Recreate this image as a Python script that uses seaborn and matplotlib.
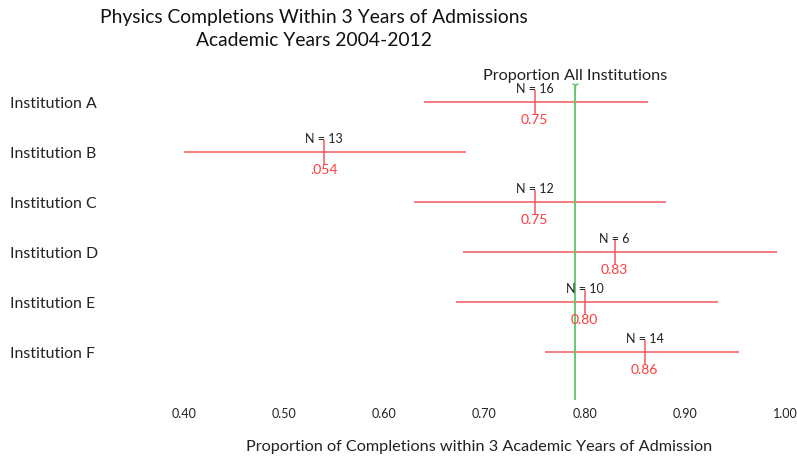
import matplotlib
matplotlib.use("Agg")
import matplotlib.pyplot as plt
import seaborn as sns
import pandas as pd

# Completion rates by institution, with interval bounds and cohort sizes
institutions = ["Institution A", "Institution B", "Institution C",
                "Institution D", "Institution E", "Institution F"]
proportion = [0.75, 0.54, 0.75, 0.83, 0.80, 0.86]
lower = [0.640, 0.400, 0.630, 0.679, 0.672, 0.760]
upper = [0.863, 0.682, 0.881, 0.992, 0.933, 0.954]
n_students = [16, 13, 12, 6, 10, 14]
value_labels = ["0.75", ".054", "0.75", "0.83", "0.80", "0.86"]
overall = 0.79
x_ticks = [0.40, 0.50, 0.60, 0.70, 0.80, 0.90, 1.00]
x_tick_labels = ["0.40", "0.50", "0.60", "0.70", "0.80", "0.90", "1.00"]

df = pd.DataFrame({"institution": institutions, "proportion": proportion,
                   "lower": lower, "upper": upper, "n": n_students,
                   "label": value_labels})
df["pos"] = range(len(df))

sns.set_theme(style="white")
plt.rcParams["font.family"] = ["Lato", "DejaVu Sans"]

W, H = 797, 457
fig = plt.figure(figsize=(W / 100, H / 100), dpi=100)
left_px, right_px, top_px, bottom_px = 184, 785, 60, 400
ax = fig.add_axes([left_px / W, 1 - bottom_px / H,
                   (right_px - left_px) / W, (bottom_px - top_px) / H])

red_line = "#f05a5a"
red_text = "#ff3b3b"

# Interval lines
ax.hlines(df["pos"], df["lower"], df["upper"], color=red_line, linewidth=1.1)
# Point estimate ticks
sns.scatterplot(data=df, x="proportion", y="pos", marker="|", s=320,
                color=red_line, linewidth=1.1, ax=ax, legend=False)

for _, r in df.iterrows():
    ax.annotate(f"N = {r['n']}", (r["proportion"], r["pos"]),
                xytext=(0, 13), textcoords="offset pixels",
                ha="center", va="center", fontsize=9, color="#222222")
    ax.annotate(r["label"], (r["proportion"], r["pos"]),
                xytext=(0, -18), textcoords="offset pixels",
                ha="center", va="center", fontsize=10, color=red_text)

# Overall proportion reference line
green = "#5cc46a"
line_top = (bottom_px - 85) / (bottom_px - top_px)
ax.axvline(overall, ymin=0, ymax=line_top, color=green, linewidth=1.3)
ax.plot([overall], [line_top], marker="1", markersize=6, color=green,
        transform=ax.get_xaxis_transform(), clip_on=False)
ax.text(overall, line_top + 0.005, "Proportion All Institutions",
        transform=ax.get_xaxis_transform(), ha="center", va="bottom",
        fontsize=11.7, color="#222222")

ax.set_xlim(0.40, 1.00)
y0 = -(102 - top_px) / 50
y1 = (bottom_px - 102) / 50
ax.set_ylim(y1, y0)

ax.set_xticks(x_ticks)
ax.set_xticklabels(x_tick_labels, fontsize=9, color="#222222")
ax.set_yticks(df["pos"])
ax.set_yticklabels(df["institution"], fontsize=11.4, color="#222222")
for lab in ax.get_yticklabels():
    lab.set_ha("left")
ax.tick_params(axis="y", length=0, pad=(left_px - 10) * 0.72)
ax.tick_params(axis="x", length=0, pad=6)

ax.set_xlabel("Proportion of Completions within 3 Academic Years of Admission",
              fontsize=11.7, color="#222222")
ax.xaxis.set_label_coords((479.5 - left_px) / (right_px - left_px),
                          -(447 - bottom_px) / (bottom_px - top_px))
ax.xaxis.label.set_va("center")
ax.set_ylabel("")
sns.despine(ax=ax, left=True, bottom=True)

fig.text(314 / W, 1 - 18 / H, "Physics Completions Within 3 Years of Admissions",
         ha="center", va="center", fontsize=13.9, color="#111111")
fig.text(314 / W, 1 - 40 / H, "Academic Years 2004-2012",
         ha="center", va="center", fontsize=13.9, color="#111111")

fig.savefig("out.png", dpi=100, facecolor="white")
